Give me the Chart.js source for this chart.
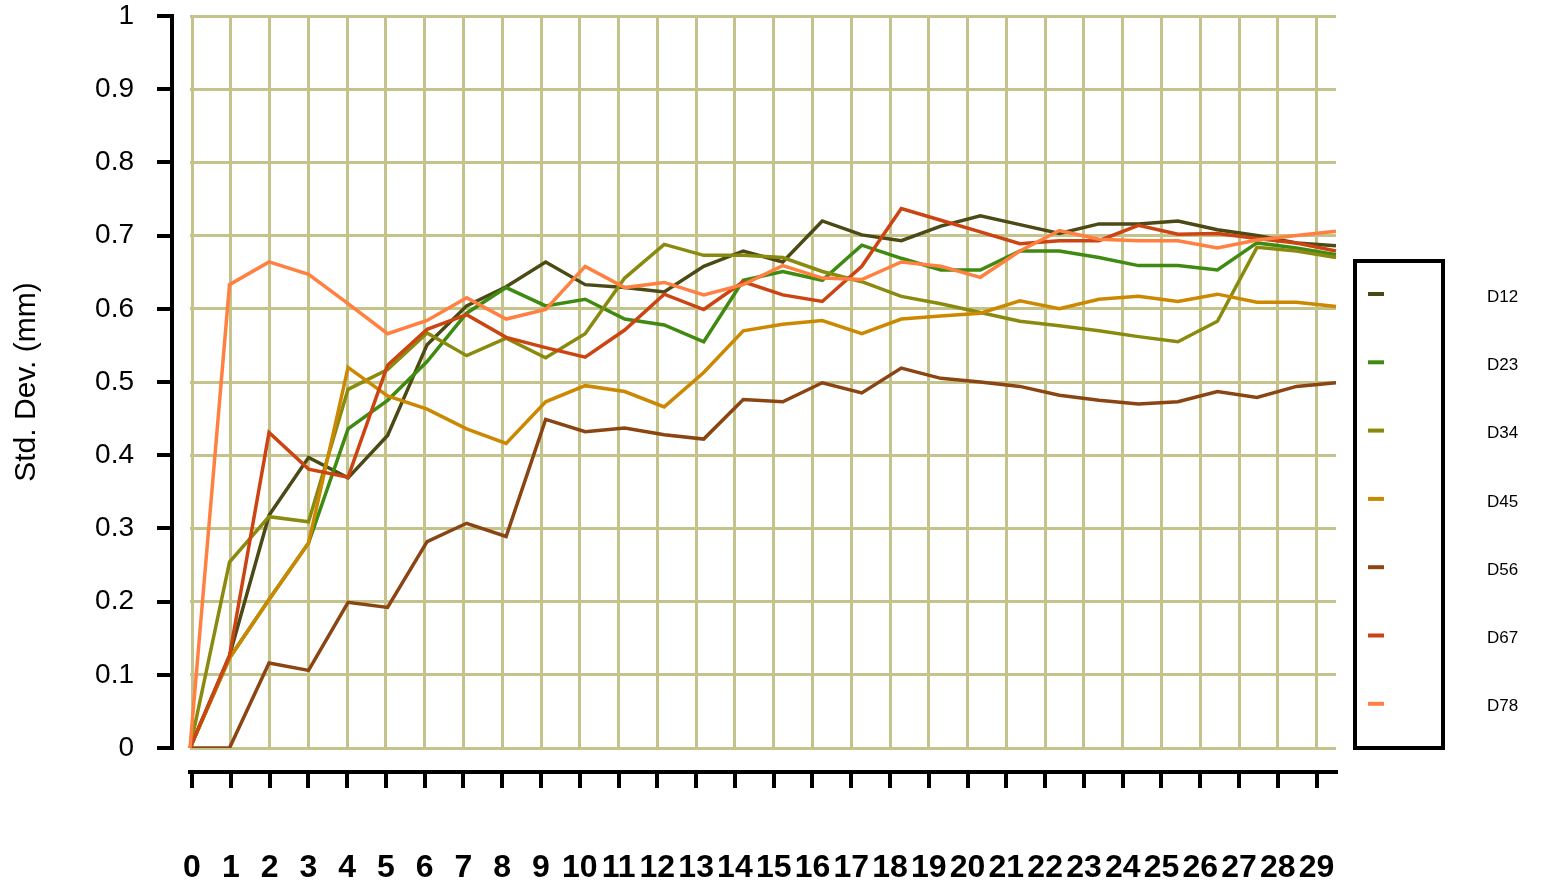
<!DOCTYPE html>
<html>
<head>
<meta charset="utf-8">
<script src="https://cdn.jsdelivr.net/npm/chart.js@4.4.1/dist/chart.umd.min.js"></script>
<style>
  html, body { margin: 0; padding: 0; background: #fff; }
  #wrap { width: 1543px; height: 883px; }
</style>
</head>
<body>
<div id="wrap"><canvas id="chart"></canvas></div>
<script>
// 横軸のラベル (0..29)
var xLabels = ['0','1','2','3','4','5','6','7','8','9','10','11','12','13','14',
               '15','16','17','18','19','20','21','22','23','24','25','26','27','28','29'];
var yTicks = [0, 0.1, 0.2, 0.3, 0.4, 0.5, 0.6, 0.7, 0.8, 0.9, 1];

var seriesNames = ['D12', 'D23', 'D34', 'D45', 'D56', 'D67', 'D78'];
var seriesColors = ['#4b4a14', '#3f8a10', '#8a8a0f', '#cc8800', '#8b4513', '#cc4411', '#ff8040'];

var d12 = [0, 0.126, 0.318, 0.397, 0.369, 0.427, 0.551, 0.604, 0.630, 0.664, 0.633, 0.629, 0.623, 0.658, 0.679,
           0.664, 0.720, 0.701, 0.693, 0.713, 0.727, 0.715, 0.703, 0.716, 0.716, 0.720, 0.708, 0.700, 0.690, 0.686];
var d23 = [0, 0.123, 0.203, 0.280, 0.436, 0.475, 0.528, 0.594, 0.629, 0.604, 0.613, 0.586, 0.578, 0.555, 0.639,
           0.651, 0.639, 0.687, 0.669, 0.653, 0.653, 0.679, 0.679, 0.670, 0.659, 0.659, 0.653, 0.690, 0.683, 0.674];
var d34 = [0, 0.254, 0.316, 0.309, 0.490, 0.517, 0.567, 0.536, 0.560, 0.533, 0.566, 0.642, 0.688, 0.673, 0.673,
           0.670, 0.651, 0.637, 0.617, 0.607, 0.595, 0.583, 0.577, 0.570, 0.562, 0.555, 0.583, 0.684, 0.679, 0.670];
var d45 = [0, 0.123, 0.203, 0.280, 0.520, 0.481, 0.463, 0.436, 0.416, 0.473, 0.495, 0.487, 0.466, 0.513, 0.570,
           0.579, 0.584, 0.566, 0.586, 0.590, 0.594, 0.611, 0.600, 0.613, 0.617, 0.610, 0.620, 0.609, 0.609, 0.603];
var d56 = [0, 0, 0.116, 0.106, 0.199, 0.192, 0.282, 0.307, 0.289, 0.449, 0.432, 0.437, 0.428, 0.422, 0.476,
           0.473, 0.499, 0.485, 0.519, 0.505, 0.500, 0.494, 0.482, 0.475, 0.470, 0.473, 0.487, 0.479, 0.494, 0.499];
var d67 = [0, 0.126, 0.431, 0.381, 0.370, 0.523, 0.572, 0.592, 0.561, 0.547, 0.534, 0.571, 0.620, 0.599, 0.637,
           0.619, 0.610, 0.658, 0.737, 0.721, 0.705, 0.689, 0.693, 0.693, 0.714, 0.702, 0.703, 0.696, 0.690, 0.679];
var d78 = [0, 0.633, 0.664, 0.647, 0.607, 0.566, 0.584, 0.615, 0.586, 0.599, 0.658, 0.629, 0.636, 0.619, 0.633,
           0.659, 0.642, 0.640, 0.664, 0.658, 0.643, 0.679, 0.707, 0.695, 0.693, 0.693, 0.683, 0.694, 0.700, 0.706];

var seriesValues = [d12, d23, d34, d45, d56, d67, d78];

var gridColor = '#c3c38b';
var fontFamily = '"Liberation Sans", Arial, sans-serif';

var datasets = seriesNames.map(function(name, i) {
    return {
        label: name,
        data: seriesValues[i],
        borderColor: seriesColors[i],
        backgroundColor: seriesColors[i],
        borderWidth: 3.5,
        pointRadius: 0,
        tension: 0,
        fill: false,
        order: seriesNames.length - i   // 後のデータセットを上に描く
    };
});

function gridTicks(scale) {
    scale.ticks = xLabels.map(function(l, i) { return { value: i }; });
}

function yGridTicks(scale) {
    scale.ticks = yTicks.map(function(v) { return { value: v }; });
}

// 右側の凡例 (枠の外にラベル)
var sideLegend = {
    id: 'sideLegend',
    afterDraw: function(chart) {
        var ctx = chart.ctx;
        ctx.save();
        ctx.strokeStyle = '#000';
        ctx.lineWidth = 4;
        ctx.strokeRect(1355, 261, 88, 487);
        chart.data.datasets.forEach(function(ds, i) {
            var y = 294 + i * 68.3;
            ctx.strokeStyle = ds.borderColor;
            ctx.lineWidth = 4;
            ctx.beginPath();
            ctx.moveTo(1368, y);
            ctx.lineTo(1384, y);
            ctx.stroke();
            ctx.fillStyle = '#000';
            ctx.font = '17px ' + fontFamily;
            ctx.textAlign = 'left';
            ctx.textBaseline = 'middle';
            ctx.fillText(ds.label, 1487, y + 3);
        });
        ctx.restore();
    }
};

new Chart(document.getElementById('chart'), {
    type: 'line',
    data: { labels: xLabels, datasets: datasets },
    plugins: [sideLegend],
    options: {
        responsive: true,
        maintainAspectRatio: false,
        animation: false,
        devicePixelRatio: 1,
        layout: { padding: { top: 16, right: 207, bottom: 0, left: 0 } },
        plugins: { legend: { display: false }, tooltip: { enabled: false } },
        scales: {
            x: { type: 'category', display: false, offset: false },
            xg: {
                type: 'linear', position: 'bottom', weight: 0,
                min: -0.0516, max: 29.5,
                afterBuildTicks: gridTicks,
                ticks: { display: false },
                grid: { color: gridColor, lineWidth: 3, tickColor: 'rgba(0,0,0,0)', tickLength: 24 },
                border: { display: false },
                afterFit: function(s) { s.height = 24; s.paddingLeft = 0; s.paddingRight = 0; }
            },
            xb: {
                type: 'linear', position: 'bottom', weight: 1,
                min: -0.0516, max: 29.5,
                afterBuildTicks: gridTicks,
                ticks: {
                    color: '#000', autoSkip: false, maxRotation: 0, minRotation: 0, padding: 61,
                    font: { family: fontFamily, size: 32, weight: 'bold' },
                    callback: function(v, i) { return xLabels[i]; }
                },
                grid: { drawOnChartArea: false, color: '#000', lineWidth: 4, tickLength: 16 },
                border: { color: '#000', width: 4 },
                afterFit: function(s) { s.height = 111; s.paddingLeft = 0; s.paddingRight = 0; }
            },
            y: {
                type: 'linear', position: 'left', weight: 0, min: 0, max: 1,
                afterBuildTicks: yGridTicks,
                ticks: { display: false },
                grid: { color: gridColor, lineWidth: 3, tickColor: 'rgba(0,0,0,0)', tickLength: 18 },
                border: { display: false },
                afterFit: function(s) { s.width = 18; s.paddingTop = 0; s.paddingBottom = 0; }
            },
            yb: {
                type: 'linear', position: 'left', weight: 1, min: 0, max: 1,
                afterBuildTicks: yGridTicks,
                ticks: {
                    color: '#000', padding: 23,
                    font: { family: fontFamily, size: 28 },
                    callback: function(v) { return String(v); }
                },
                grid: { drawOnChartArea: false, color: '#000', lineWidth: 4, tickLength: 15 },
                border: { color: '#000', width: 4 },
                title: {
                    display: true, text: 'Std. Dev. (mm)', color: '#000',
                    font: { family: fontFamily, size: 30 },
                    padding: { top: 9, bottom: 0 }
                },
                afterFit: function(s) { s.width = 172; s.paddingTop = 0; s.paddingBottom = 0; }
            }
        }
    }
});
</script>
</body>
</html>
